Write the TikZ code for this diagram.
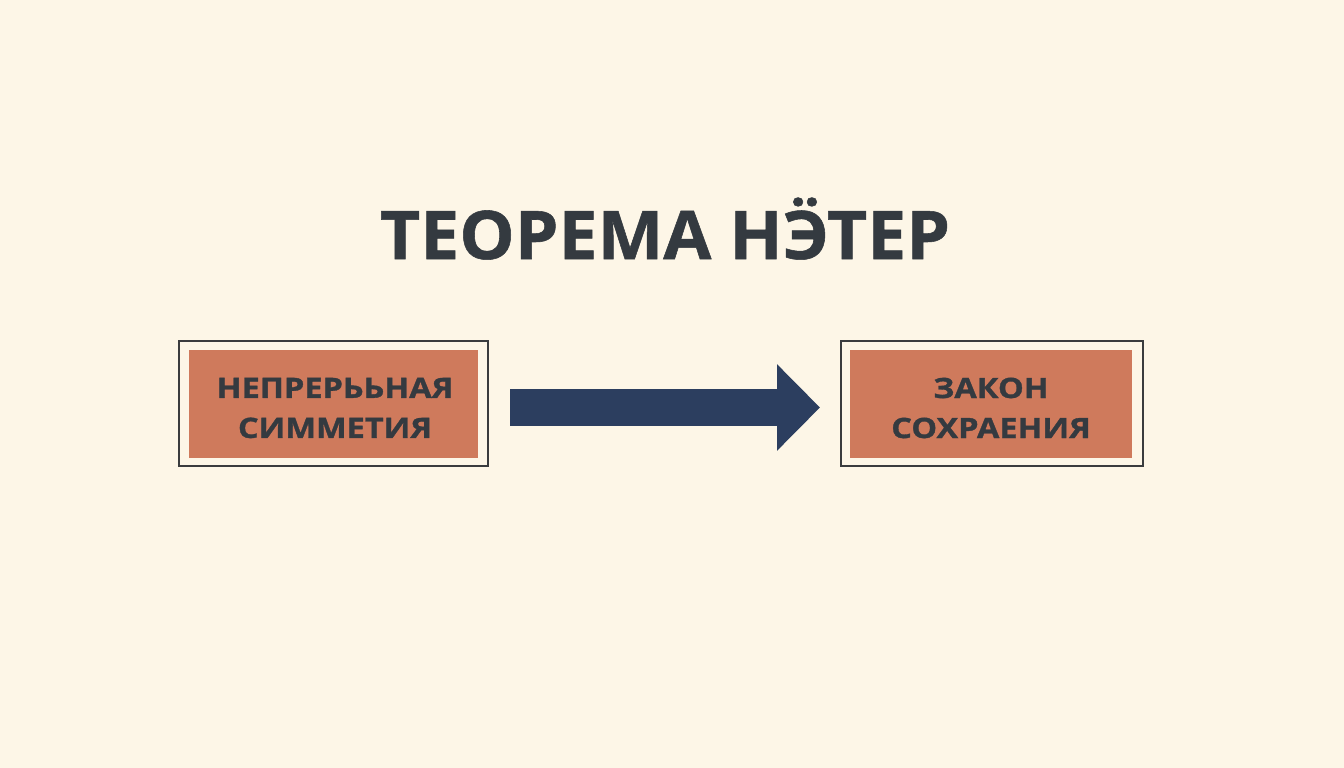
\documentclass[tikz,border=0pt]{standalone}
\usepackage{fontspec}
\setmainfont{Open Sans}
\newfontfamily\boxfont{Open Sans}[FakeStretch=1.16, FakeBold=1.2]
\newfontfamily\titlefont{Open Sans}[FakeStretch=1.04, FakeBold=0.8]
\usetikzlibrary{arrows.meta}
\definecolor{bgc}{RGB}{253,246,231}
\definecolor{boxfill}{RGB}{207,122,92}
\definecolor{ink}{RGB}{52,58,64}
\definecolor{framec}{RGB}{58,60,62}
\definecolor{arrowc}{RGB}{44,62,95}
\tikzset{
  frame/.style={draw=framec, line width=2pt, minimum height=125pt, inner sep=0pt},
  panel/.style={fill=boxfill, minimum height=108pt, inner sep=0pt},
  paneltext/.style={text=ink, font=\boxfont\bfseries\fontsize{28}{40}\selectfont, align=center, inner sep=0pt},
  titletext/.style={text=ink, font=\titlefont\bfseries\fontsize{67}{80}\selectfont, inner sep=0pt},
  bigarrow/.style={draw=arrowc, line width=37pt, -{Triangle[length=43pt,width=84pt,color=arrowc]}}
}
\begin{document}
\begin{tikzpicture}[x=1pt,y=-1pt]
\fill[bgc] (0,0) rectangle (1344,768);
\useasboundingbox (0,0) rectangle (1344,768);
\node[titletext, anchor=base] (title) at (665,259) {ТЕОРЕМА НӬТЕР};
\node[frame, minimum width=309pt] (L) at (333.5,403.5) {};
\node[panel, minimum width=289pt] (Lp) at (333.5,403.5) {};
\node[paneltext] (Lt) at (335,408) {НЕПРЕРЬЬНАЯ\\СИММЕТИЯ};
\node[frame, minimum width=302pt] (R) at (992,403.5) {};
\node[panel, minimum width=282pt] (Rp) at (991,403.5) {};
\node[paneltext] (Rt) at (991,408) {ЗАКОН\\СОХРАЕНИЯ};
\draw[bigarrow] ([xshift=21pt,yshift=-4pt]L.east) -- ([xshift=-20pt,yshift=-4pt]R.west);
\end{tikzpicture}
\end{document}
